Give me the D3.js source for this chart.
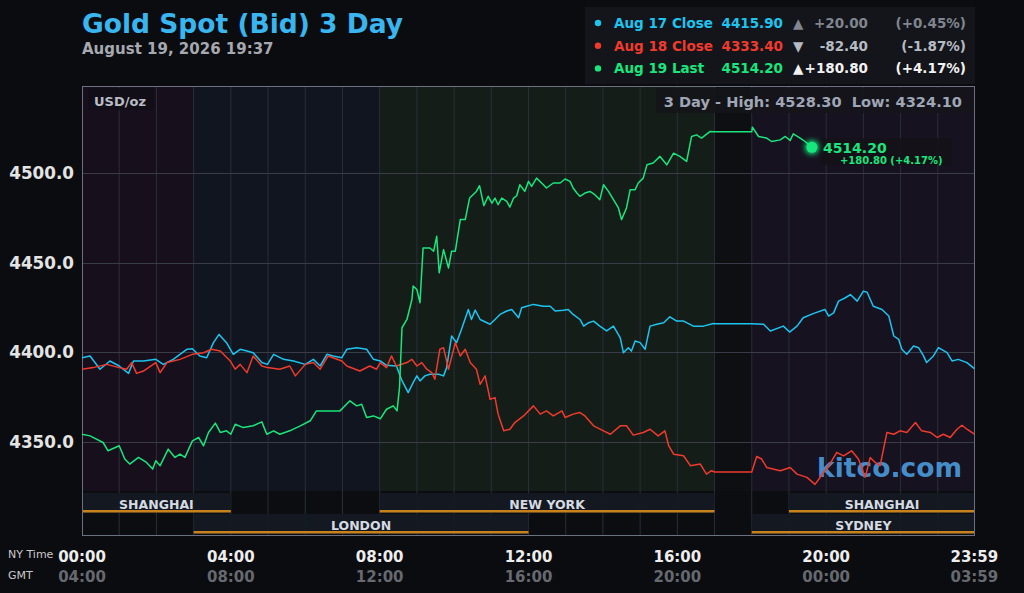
<!DOCTYPE html>
<html>
<head>
<meta charset="utf-8">
<script src="https://cdn.jsdelivr.net/npm/d3@7"></script>
<style>
  html, body { margin: 0; padding: 0; background: #0b0c0f; }
  svg { display: block; font-family: "DejaVu Sans", sans-serif; }
</style>
</head>
<body>
<div class="canvas"></div>
<script>
// ---- data (minutes after NY midnight, price) ----
const aug17 = [[0,4397.0],[13,4398.0],[29,4390.6],[45,4395.2],[60,4392.4],[75,4388.3],[83,4395.2],[99,4395.2],[119,4396.1],[131,4393.3],[147,4396.1],[169,4401.7],[178,4402.0],[190,4398.0],[201,4397.0],[212,4405.4],[221,4410.0],[233,4405.4],[244,4398.9],[255,4401.7],[266,4400.7],[276,4399.8],[290,4394.3],[299,4393.3],[309,4398.9],[325,4396.1],[341,4395.2],[360,4393.3],[373,4396.1],[384,4392.4],[395,4398.9],[405,4398.0],[419,4397.0],[427,4401.7],[443,4402.6],[459,4401.7],[470,4396.1],[481,4395.2],[491,4392.8],[507,4392.4],[515,4385.0],[526,4377.6],[534,4383.1],[540,4386.9],[545,4384.1],[553,4386.9],[561,4387.8],[575,4387.8],[583,4386.9],[588,4391.5],[596,4409.1],[604,4405.4],[612,4412.8],[623,4423.9],[628,4418.3],[634,4423.5],[642,4418.3],[653,4416.5],[658,4415.6],[666,4418.3],[674,4421.1],[685,4423.0],[693,4423.9],[704,4419.3],[709,4424.8],[717,4425.7],[728,4426.7],[744,4425.7],[755,4425.7],[763,4423.0],[776,4423.5],[784,4423.9],[792,4421.1],[803,4418.3],[809,4414.6],[817,4416.5],[825,4417.4],[835,4414.6],[846,4411.9],[857,4414.6],[868,4408.1],[873,4399.8],[881,4402.6],[886,4400.7],[892,4406.3],[900,4405.4],[908,4401.7],[916,4414.6],[927,4415.6],[938,4416.5],[948,4419.8],[959,4417.4],[970,4417.4],[986,4414.6],[1002,4414.6],[1018,4416.1],[1020,4415.9],[1080,4415.9],[1099,4415.6],[1110,4411.9],[1131,4414.6],[1141,4411.3],[1153,4414.6],[1163,4419.3],[1180,4421.7],[1198,4423.9],[1204,4420.2],[1212,4422.0],[1220,4428.5],[1231,4430.4],[1239,4432.2],[1250,4428.5],[1260,4434.1],[1266,4433.5],[1276,4425.7],[1290,4423.9],[1301,4420.2],[1309,4409.1],[1317,4407.2],[1322,4401.7],[1330,4398.9],[1341,4403.5],[1349,4402.6],[1357,4398.0],[1362,4394.3],[1373,4398.0],[1381,4402.6],[1395,4399.8],[1403,4395.2],[1413,4396.1],[1427,4394.3],[1439,4390.9]];

const aug18 = [[0,4390.6],[18,4391.5],[40,4393.3],[60,4391.5],[72,4390.6],[80,4394.3],[88,4388.3],[99,4389.6],[119,4394.3],[126,4388.7],[137,4394.3],[158,4396.1],[178,4398.9],[196,4399.8],[209,4401.7],[223,4400.7],[239,4395.2],[247,4390.6],[255,4393.3],[266,4388.7],[276,4398.0],[290,4392.4],[299,4391.5],[319,4390.6],[335,4392.4],[344,4386.9],[360,4393.3],[373,4394.3],[384,4390.6],[397,4398.0],[419,4395.2],[427,4392.4],[448,4389.6],[464,4392.4],[475,4390.6],[481,4394.3],[491,4391.5],[499,4398.0],[507,4392.4],[524,4394.3],[532,4396.1],[540,4392.4],[548,4394.3],[556,4390.6],[564,4388.7],[569,4385.0],[577,4401.7],[583,4402.6],[591,4390.6],[602,4405.4],[610,4398.0],[618,4401.7],[626,4394.3],[636,4390.6],[642,4382.2],[650,4386.9],[658,4373.9],[666,4374.8],[671,4365.6],[680,4356.3],[690,4357.2],[698,4360.9],[712,4364.6],[728,4370.2],[739,4365.6],[749,4367.4],[760,4364.6],[774,4367.4],[779,4363.7],[792,4365.6],[803,4366.5],[811,4364.6],[825,4359.1],[841,4356.3],[852,4354.4],[868,4359.1],[878,4359.1],[889,4353.9],[905,4355.4],[916,4357.2],[929,4353.5],[940,4356.3],[946,4348.0],[954,4343.3],[970,4342.4],[981,4336.9],[997,4337.8],[1007,4332.2],[1015,4334.1],[1020,4333.4],[1080,4333.4],[1088,4342.0],[1096,4340.6],[1104,4335.9],[1126,4334.1],[1142,4335.9],[1153,4332.2],[1169,4330.4],[1182,4326.5],[1196,4333.1],[1209,4339.6],[1217,4344.3],[1228,4342.4],[1241,4345.2],[1252,4340.6],[1263,4330.4],[1271,4341.5],[1279,4338.7],[1287,4336.9],[1298,4355.4],[1309,4354.4],[1319,4356.3],[1330,4355.4],[1344,4360.9],[1354,4356.3],[1368,4355.4],[1379,4352.6],[1389,4354.4],[1400,4352.6],[1411,4357.2],[1419,4359.4],[1427,4357.2],[1439,4354.4]];

const aug19 = [[0,4354.4],[13,4353.5],[34,4349.8],[42,4345.2],[60,4348.0],[69,4340.6],[77,4337.8],[91,4341.5],[104,4338.7],[114,4335.0],[119,4339.6],[126,4336.9],[139,4346.1],[150,4341.5],[158,4343.3],[166,4341.5],[178,4350.7],[188,4352.6],[196,4348.0],[204,4355.4],[215,4360.6],[223,4355.4],[233,4356.3],[240,4354.4],[247,4360.0],[260,4358.1],[276,4359.1],[290,4361.3],[298,4354.4],[309,4356.3],[319,4354.4],[335,4356.3],[352,4359.1],[368,4361.9],[378,4367.4],[395,4367.4],[416,4367.4],[432,4373.0],[443,4370.2],[451,4371.1],[459,4363.7],[470,4364.6],[481,4363.0],[491,4368.3],[502,4370.2],[508,4367.4],[512,4380.4],[516,4413.7],[524,4418.3],[532,4429.4],[534,4436.9],[540,4435.0],[545,4427.6],[550,4458.1],[561,4458.1],[567,4456.3],[572,4464.6],[576,4444.3],[583,4457.2],[591,4447.0],[596,4456.3],[602,4456.3],[610,4473.9],[618,4473.9],[625,4485.9],[636,4489.6],[641,4492.8],[648,4481.7],[655,4486.9],[661,4483.1],[666,4485.9],[671,4482.2],[677,4485.9],[685,4484.1],[690,4480.9],[696,4485.9],[701,4487.2],[706,4493.3],[714,4489.6],[720,4495.2],[725,4492.4],[733,4497.0],[744,4493.3],[749,4491.5],[760,4494.3],[771,4494.3],[779,4496.5],[787,4495.2],[792,4491.5],[798,4488.7],[803,4486.9],[811,4488.7],[819,4489.6],[827,4487.8],[835,4485.0],[841,4493.3],[849,4489.6],[857,4485.0],[865,4480.4],[870,4473.9],[878,4480.4],[884,4490.6],[892,4490.6],[897,4494.3],[905,4497.0],[911,4504.4],[921,4505.4],[932,4509.1],[943,4504.4],[954,4510.9],[964,4509.1],[975,4506.3],[983,4520.2],[991,4521.1],[999,4519.3],[1013,4523.0],[1020,4522.8],[1080,4522.8],[1081,4525.4],[1091,4520.2],[1104,4519.3],[1112,4517.4],[1126,4518.3],[1134,4520.2],[1142,4518.0],[1147,4521.7],[1158,4519.3],[1166,4517.4],[1177,4514.2]];

// legend
const legendLabels = ['Aug 17 Close', 'Aug 18 Close', 'Aug 19 Last'];
const legendValues = ['4415.90', '4333.40', '4514.20'];
const legendArrows = ['▲', '▼', '▲'];
const legendChanges = ['+20.00', '-82.40', '+180.80'];
const legendPcts = ['(+0.45%)', '(-1.87%)', '(+4.17%)'];

// axis
const yTicks = [4350, 4400, 4450, 4500];
const xTickHours = [0, 4, 8, 12, 16, 20, 23.983];
const nyLabels = ['00:00', '04:00', '08:00', '12:00', '16:00', '20:00', '23:59'];
const gmtLabels = ['04:00', '08:00', '12:00', '16:00', '20:00', '00:00', '03:59'];

// trading sessions (hours NY time)
const sessionNames = ['SHANGHAI', 'LONDON', 'NEW YORK', 'SHANGHAI', 'SYDNEY'];
const sessionStart = [0, 3, 8, 19, 18];
const sessionEnd = [4, 12, 17, 24, 24];
const sessionRow = [0, 1, 0, 0, 1];

// background zones
const zoneStart = [0, 3, 8, 17, 18];
const zoneEnd = [3, 8, 17, 18, 24];

const stats = {high: '4528.30', low: '4324.10', last: 4514.20, lastTime: 1177};

// ---- layout ----
const W = 1024, H = 593;
const plot = {left: 82, right: 975, top: 86, bottom: 491, sessTop: 493, bottom2: 536};
const colors = ['#1ec4f0', '#f03a2c', '#19e67c'];
const zoneColors = ['#180f1d', '#11151f', '#151d18', '#0e0f12', '#17121f'];

const svg = d3.select('.canvas').append('svg')
    .attr('width', W).attr('height', H);

svg.append('rect').attr('width', W).attr('height', H).attr('fill', '#0b0c0f');

const x = d3.scaleLinear().domain([0, 1440]).range([plot.left, plot.right]);
const y = d3.scaleLinear().domain([4322.8, 4548.3]).range([plot.bottom, plot.top]);
const xh = h => x(h * 60);

// glow filter
const defs = svg.append('defs');
const glow = defs.append('filter').attr('id', 'glow').attr('x', '-100%').attr('y', '-100%').attr('width', '300%').attr('height', '300%');
glow.append('feGaussianBlur').attr('stdDeviation', 3).attr('result', 'b');
const merge = glow.append('feMerge');
merge.append('feMergeNode').attr('in', 'b');
merge.append('feMergeNode').attr('in', 'b');
merge.append('feMergeNode').attr('in', 'SourceGraphic');

defs.append('clipPath').attr('id', 'clip').append('rect')
    .attr('x', plot.left).attr('y', plot.top)
    .attr('width', plot.right - plot.left).attr('height', plot.bottom - plot.top);

// zones
svg.append('g').selectAll('rect').data(zoneStart).join('rect')
    .attr('x', (d, i) => xh(d))
    .attr('y', plot.top)
    .attr('width', (d, i) => xh(zoneEnd[i]) - xh(d))
    .attr('height', plot.bottom - plot.top)
    .attr('fill', (d, i) => zoneColors[i]);

// session rows background
svg.append('rect').attr('x', plot.left).attr('y', plot.bottom)
    .attr('width', plot.right - plot.left).attr('height', plot.bottom2 - plot.bottom)
    .attr('fill', '#0c0d10');

// vertical hour grid
svg.append('g').selectAll('line').data(d3.range(1, 24)).join('line')
    .attr('x1', d => xh(d)).attr('x2', d => xh(d))
    .attr('y1', plot.top).attr('y2', plot.bottom2)
    .attr('stroke', '#2b2e38').attr('stroke-width', 1);

// horizontal grid
svg.append('g').selectAll('line').data(yTicks).join('line')
    .attr('x1', plot.left).attr('x2', plot.right)
    .attr('y1', d => Math.round(y(d)) + 0.5).attr('y2', d => Math.round(y(d)) + 0.5)
    .attr('stroke', '#393c47').attr('stroke-width', 1.2);

// sessions
const rowH = 21;
const sess = svg.append('g');
sessionNames.forEach((name, i) => {
    const top = plot.sessTop + sessionRow[i] * rowH;
    const x0 = xh(sessionStart[i]), x1 = xh(sessionEnd[i]);
    sess.append('rect').attr('x', x0).attr('y', top).attr('width', x1 - x0).attr('height', rowH - 1)
        .attr('fill', '#141923').attr('fill-opacity', 0.95);
    sess.append('rect').attr('x', x0).attr('y', top + rowH - 4).attr('width', x1 - x0).attr('height', 2.5)
        .attr('fill', '#c7821c');
    sess.append('text').attr('x', (x0 + x1) / 2).attr('y', top + rowH - 5)
        .attr('text-anchor', 'middle').attr('font-size', 12.5).attr('font-weight', 'bold')
        .attr('fill', '#d6dae2').text(name);
});

// plot border
svg.append('rect').attr('x', plot.left + 0.5).attr('y', plot.top + 0.5)
    .attr('width', plot.right - plot.left - 1).attr('height', plot.bottom2 - plot.top - 1)
    .attr('fill', 'none').attr('stroke', '#6b7180').attr('stroke-width', 1);

// watermark
svg.append('text').attr('x', 962).attr('y', 477).attr('text-anchor', 'end')
    .attr('font-size', 26.5).attr('font-weight', 'bold').attr('fill', '#4c9fe2').attr('fill-opacity', 0.9)
    .text('kitco.com');

// lines
const line = d3.line().x(d => x(d[0])).y(d => y(d[1]));
const lines = svg.append('g').attr('clip-path', 'url(#clip)');
[aug17, aug18, aug19].forEach((s, i) => {
    lines.append('path').datum(s)
        .attr('d', line)
        .attr('fill', 'none')
        .attr('stroke', colors[i])
        .attr('stroke-width', 1.5)
        .attr('stroke-linejoin', 'round');
});

// USD/oz label
svg.append('rect').attr('x', 88).attr('y', 88).attr('width', 66).attr('height', 22).attr('fill', '#120e16').attr('opacity', 0.8);
svg.append('text').attr('x', 94).attr('y', 106).attr('font-size', 13).attr('font-weight', 'bold')
    .attr('fill', '#b9bcc5').text('USD/oz');

// high / low box
svg.append('rect').attr('x', 656).attr('y', 88).attr('width', 318).attr('height', 25).attr('fill', '#141519').attr('opacity', 0.9);
svg.append('text').attr('x', 962).attr('y', 107).attr('text-anchor', 'end')
    .attr('font-size', 14.6).attr('font-weight', 'bold').attr('fill', '#9fa6b6')
    .attr('xml:space', 'preserve')
    .text(`3 Day - High: ${stats.high}  Low: ${stats.low}`);

// y labels
svg.append('g').selectAll('text').data(yTicks).join('text')
    .attr('x', 74).attr('y', d => y(d) + 6)
    .attr('text-anchor', 'end').attr('font-size', 16.8).attr('font-weight', 'bold')
    .attr('fill', '#e4e4e4').text(d => d.toFixed(1));

// x labels
svg.append('g').selectAll('text').data(xTickHours).join('text')
    .attr('x', d => xh(d)).attr('y', 562)
    .attr('text-anchor', 'middle').attr('font-size', 15).attr('font-weight', 'bold')
    .attr('fill', '#eeeeee').text((d, i) => nyLabels[i]);
svg.append('g').selectAll('text').data(xTickHours).join('text')
    .attr('x', d => xh(d)).attr('y', 582)
    .attr('text-anchor', 'middle').attr('font-size', 15).attr('font-weight', 'bold')
    .attr('fill', '#66696f').text((d, i) => gmtLabels[i]);
svg.append('text').attr('x', 8).attr('y', 558).attr('font-size', 11).attr('fill', '#c9c9c9').text('NY Time');
svg.append('text').attr('x', 8).attr('y', 579).attr('font-size', 11).attr('fill', '#c9c9c9').text('GMT');

// end marker
const ex = x(stats.lastTime), ey = y(stats.last);
svg.append('rect').attr('x', ex + 8).attr('y', ey - 9).attr('width', 132).attr('height', 27).attr('fill', '#141218').attr('opacity', 0.85);
svg.append('circle').attr('cx', ex).attr('cy', ey).attr('r', 5.5).attr('fill', colors[2]).attr('filter', 'url(#glow)');
svg.append('text').attr('x', ex + 11).attr('y', ey + 6).attr('font-size', 14).attr('font-weight', 'bold')
    .attr('fill', colors[2]).text(stats.last.toFixed(2));
svg.append('text').attr('x', ex + 28).attr('y', ey + 16.5).attr('font-size', 10).attr('font-weight', 'bold')
    .attr('fill', colors[2]).text(`${legendChanges[2]} ${legendPcts[2]}`);

// title
svg.append('text').attr('x', 82).attr('y', 33).attr('font-size', 26.5).attr('font-weight', 'bold')
    .attr('fill', '#39b6ef').text('Gold Spot (Bid) 3 Day');
svg.append('text').attr('x', 82).attr('y', 54).attr('font-size', 15).attr('font-weight', 'bold')
    .attr('fill', '#a6a9b0').text('August 19, 2026 19:37');

// legend box
svg.append('rect').attr('x', 585).attr('y', 7).attr('width', 390).attr('height', 77).attr('fill', '#13151a');
const chgColors = ['#80858f', '#b6bac2', '#f2f2f2'];
legendLabels.forEach((lab, i) => {
    const by = 28 + i * 22.7;
    svg.append('circle').attr('cx', 598).attr('cy', by - 5).attr('r', 3.2).attr('fill', colors[i]);
    svg.append('text').attr('x', 614).attr('y', by).attr('font-size', 13.5).attr('font-weight', 'bold')
        .attr('fill', colors[i]).text(lab);
    svg.append('text').attr('x', 783).attr('y', by).attr('text-anchor', 'end').attr('font-size', 13.5).attr('font-weight', 'bold')
        .attr('fill', colors[i]).text(legendValues[i]);
    svg.append('text').attr('x', 793).attr('y', by).attr('font-size', 13.5).attr('font-weight', 'bold')
        .attr('fill', chgColors[i]).text(legendArrows[i]);
    svg.append('text').attr('x', 868).attr('y', by).attr('text-anchor', 'end').attr('font-size', 13.5).attr('font-weight', 'bold')
        .attr('fill', chgColors[i]).text(legendChanges[i]);
    svg.append('text').attr('x', 966).attr('y', by).attr('text-anchor', 'end').attr('font-size', 13.5).attr('font-weight', 'bold')
        .attr('fill', chgColors[i]).text(legendPcts[i]);
});
</script>
</body>
</html>
